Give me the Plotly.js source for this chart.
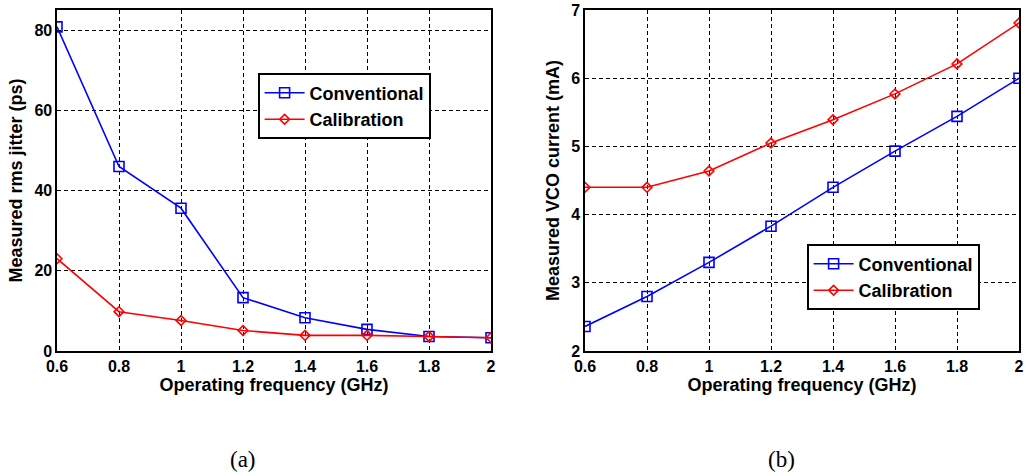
<!DOCTYPE html>
<html>
<head>
<meta charset="utf-8">
<script src="https://cdn.plot.ly/plotly-3.0.1.min.js"></script>
<style>html,body{margin:0;padding:0;background:#fff;}#chart{width:1026px;height:476px;}</style>
</head>
<body>
<div id="chart"></div>
<script>
// Data
const freqGHz = [0.6, 0.8, 1.0, 1.2, 1.4, 1.6, 1.8, 2.0];
const jitterConventional = [80.8, 46.0, 35.6, 13.3, 8.3, 5.4, 3.6, 3.3];
const jitterCalibration = [23.0, 9.8, 7.6, 5.1, 3.9, 3.9, 3.6, 3.3];
const currentConventional = [2.36, 2.80, 3.30, 3.83, 4.40, 4.93, 5.44, 6.00];
const currentCalibration = [4.40, 4.40, 4.64, 5.05, 5.39, 5.77, 6.21, 6.81];
const seriesNames = ["Conventional", "Calibration"];
const xTickVals = [0.6, 0.8, 1, 1.2, 1.4, 1.6, 1.8, 2];
const xTickText = ["0.6", "0.8", "1", "1.2", "1.4", "1.6", "1.8", "2"];
const panelLabels = ["(a)", "(b)"];

const W = 1026, H = 476;
const FONT = "Liberation Sans, Arial, sans-serif";
const blue = "#0000ff", red = "#ff0000";

function convTrace(y, xa, ya, leg) {
  return {x: freqGHz, y: y, xaxis: xa, yaxis: ya, legend: leg, name: seriesNames[0],
    mode: "lines+markers", line: {color: blue, width: 1.6},
    marker: {symbol: "square-open", size: 10, color: blue, line: {width: 1.6, color: blue}}};
}
function calTrace(y, xa, ya, leg) {
  return {x: freqGHz, y: y, xaxis: xa, yaxis: ya, legend: leg, name: seriesNames[1],
    mode: "lines+markers", line: {color: red, width: 1.6},
    marker: {symbol: "diamond-open", size: 7.5, color: red, line: {width: 1.6, color: red}}};
}

const data = [
  convTrace(jitterConventional, "x", "y", "legend"),
  calTrace(jitterCalibration, "x", "y", "legend"),
  convTrace(currentConventional, "x2", "y2", "legend2"),
  calTrace(currentCalibration, "x2", "y2", "legend2")
];

const tickFont = {family: FONT, size: 16, color: "#000", weight: "bold"};
const titleFont = {family: FONT, size: 18, color: "#000", weight: "bold"};

function xAxis(domain, anchor) {
  return {domain: domain, anchor: anchor, range: [0.6, 2], tickmode: "array",
    tickvals: xTickVals, ticktext: xTickText, tickfont: tickFont, ticks: "",
    showline: true, linecolor: "#000", linewidth: 1.6, mirror: true,
    showgrid: true, gridcolor: "#000", griddash: "4px,3px", gridwidth: 1, zeroline: false,
    title: {text: "Operating frequency (GHz)", font: titleFont, standoff: 3}};
}
function yAxis(domain, anchor, range, dtick, title) {
  return {domain: domain, anchor: anchor, range: range, dtick: dtick, tickfont: tickFont, ticks: "",
    showline: true, linecolor: "#000", linewidth: 1.6, mirror: true,
    showgrid: true, gridcolor: "#000", griddash: "4px,3px", gridwidth: 1, zeroline: false,
    title: {text: title, font: titleFont, standoff: 7}};
}

const yDom = [(H - 351) / H, (H - 10) / H];
const legendBase = {bgcolor: "#fff", bordercolor: "#000", borderwidth: 1.6,
  font: {family: FONT, size: 18, color: "#000", weight: "bold"},
  xref: "paper", yref: "paper", xanchor: "left", yanchor: "top", itemwidth: 40, tracegroupgap: 0};

const layout = {
  width: W, height: H, margin: {l: 0, r: 0, t: 0, b: 0},
  paper_bgcolor: "#fff", plot_bgcolor: "#fff",
  showlegend: true,
  xaxis: xAxis([57 / W, 491 / W], "y"),
  yaxis: yAxis(yDom, "x", [0, 85], 20, "Measured rms jitter (ps)"),
  xaxis2: xAxis([585 / W, 1019 / W], "y2"),
  yaxis2: yAxis(yDom, "x2", [2, 7], 1, "Measured VCO current (mA)"),
  legend: Object.assign({}, legendBase, {x: 258 / W, y: 1 - 73 / H}),
  legend2: Object.assign({}, legendBase, {x: 807 / W, y: 1 - 244 / H}),
  annotations: [
    {text: panelLabels[0], xref: "paper", yref: "paper", x: 243 / W, y: 1 - 459 / H,
     xanchor: "center", yanchor: "middle", showarrow: false,
     font: {family: "Liberation Serif, serif", size: 23, color: "#000"}},
    {text: panelLabels[1], xref: "paper", yref: "paper", x: 781 / W, y: 1 - 459 / H,
     xanchor: "center", yanchor: "middle", showarrow: false,
     font: {family: "Liberation Serif, serif", size: 23, color: "#000"}}
  ]
};

Plotly.newPlot("chart", data, layout, {displayModeBar: false, staticPlot: true});
</script>
</body>
</html>
